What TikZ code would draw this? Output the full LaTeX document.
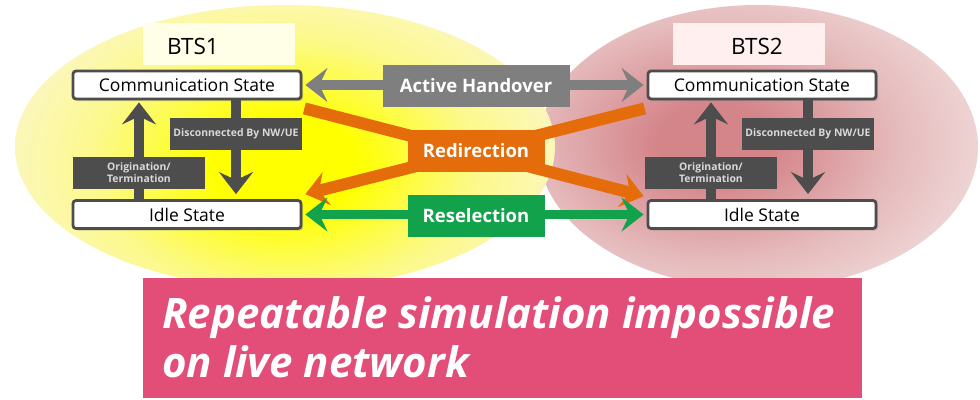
\documentclass[tikz,border=0pt]{standalone}
\usepackage{fontspec}
\setmainfont{Open Sans}
\usetikzlibrary{arrows.meta,calc,shadows}
\definecolor{yc}{HTML}{FFFF00}
\definecolor{ym}{HTML}{FCF98C}
\definecolor{ye}{HTML}{FBF6D2}
\definecolor{yx}{HTML}{FCF9E8}
\definecolor{pc}{HTML}{D4858A}
\definecolor{pm}{HTML}{E6BCBD}
\definecolor{pe}{HTML}{F2DFDF}
\definecolor{px}{HTML}{F7EDED}
\definecolor{grayA}{HTML}{7F7F7F}
\definecolor{darkB}{HTML}{4D4D4D}
\definecolor{orangeR}{HTML}{E46C0A}
\definecolor{greenR}{HTML}{12A24B}
\definecolor{pinkBox}{HTML}{E34E79}
\pgfdeclareradialshading{ylw}{\pgfpoint{0bp}{0bp}}{color(0bp)=(yc); color(6bp)=(yc); color(16bp)=(ym); color(26bp)=(ye); color(36bp)=(yx); color(50bp)=(yx)}
\pgfdeclareradialshading{pnk}{\pgfpoint{0bp}{0bp}}{color(0bp)=(pc); color(5bp)=(pc); color(16bp)=(pm); color(26bp)=(pe); color(36bp)=(px); color(50bp)=(px)}
\tikzset{
  state/.style={draw=darkB, line width=2.8pt, fill=white, rounded corners=3pt,
    minimum width=228pt, minimum height=28pt, inner sep=0pt, font=\fontsize{17.5}{19}\selectfont,
    drop shadow={shadow xshift=2pt, shadow yshift=-2pt, opacity=0.35}},
  lbl/.style={fill=#1, text=white, inner sep=0pt, font=\bfseries\fontsize{18.5}{20}\selectfont},
  small/.style={fill=darkB, text=white!85!black, inner sep=0pt, align=center,
    font=\bfseries\fontsize{10.4}{12}\selectfont},
  btsbox/.style={inner sep=0pt, minimum width=152pt, minimum height=42pt},
  btstext/.style={inner sep=0pt, font=\fontsize{22.5}{24}\selectfont},
  hd/.tip={Stealth[length=22pt, width=34pt, inset=8pt]},
  fat/.style={line width=#1},
}
\begin{document}
\begin{tikzpicture}[x=1pt,y=-1pt]
\useasboundingbox (0,0) rectangle (980,399);
\fill[white] (0,0) rectangle (980,399);
% glows
\begin{scope}
\clip (758,147) ellipse [x radius=220pt, y radius=142pt];
\shade[shading=pnk] (715,142) ellipse [x radius=290pt, y radius=190pt];
\end{scope}
\begin{scope}
\clip (285,147) ellipse [x radius=270pt, y radius=142pt];
\shade[shading=ylw] (285,165) ellipse [x radius=300pt, y radius=200pt];
\end{scope}
% BTS labels
\node[btsbox, fill=white!60!yellow!25!white] (b1) at (219,44) {};
\node[btstext] (b1t) at (193,46) {BTS1};
\node[btsbox, fill=pink!25!white] (b2) at (749,44) {};
\node[btstext] (b2t) at (757,46) {BTS2};
% state boxes
\node[state] (lc) at (187,85) {Communication State};
\node[state] (li) at (187,214.5) {Idle State};
\node[state] (rc) at (762,85) {Communication State};
\node[state] (ri) at (762,214.5) {Idle State};
% label positions
\coordinate (lo) at (139,173);
\coordinate (ld) at (236,134);
\coordinate (ro) at (711,173);
\coordinate (rd) at (808,134);
% vertical arrows
\draw[fat=10pt, darkB, -{hd}] (lo |- li.north) -- ($(lo |- lc.south)+(0,2)$);
\draw[fat=10pt, darkB, -{hd}] (ld |- lc.south) -- ($(ld |- li.north)+(0,-5)$);
\draw[fat=10pt, darkB, -{hd}] (ro |- ri.north) -- ($(ro |- rc.south)+(0,2)$);
\draw[fat=10pt, darkB, -{hd}] (rd |- rc.south) -- ($(rd |- ri.north)+(0,-5)$);
\node[small, minimum width=132pt, minimum height=32pt] (lon) at (lo) {Origination/\\Termination};
\node[small, minimum width=132pt, minimum height=32pt] (ldn) at (ld) {Disconnected By NW/UE};
\node[small, minimum width=132pt, minimum height=32pt] (ron) at (ro) {Origination/\\Termination};
\node[small, minimum width=132pt, minimum height=32pt] (rdn) at (rd) {Disconnected By NW/UE};
% horizontal arrows
\draw[fat=10pt, grayA, {hd}-{hd}] ($(lc.east)+(3,0)$) -- ($(rc.west)+(-3,0)$);
\draw[fat=12pt, orangeR, -{hd}] ($(lc.south east)+(2,8)$) -- ($(ri.north west)+(-3,-3)$);
\draw[fat=12pt, orangeR, -{hd}] ($(rc.south west)+(-2,8)$) -- ($(li.north east)+(3,-5)$);
\draw[fat=9pt, greenR, {hd}-{hd}] ($(li.east)+(3,0)$) -- ($(ri.west)+(-3,0)$);
\node[lbl=grayA, minimum width=187pt, minimum height=42pt] (ah) at (476,86) {Active Handover};
\node[lbl=orangeR, minimum width=137pt, minimum height=42pt] (rdir) at (476,151) {Redirection};
\node[lbl=greenR, minimum width=137pt, minimum height=42pt] (rs) at (476,216) {Reselection};
% bottom box
\node[fill=pinkBox, minimum width=719pt, minimum height=120pt, inner sep=0pt] (bx) at (502.5,338) {};
\node[text=white, anchor=base west, align=left, inner sep=0pt,
  font=\bfseries\itshape\fontsize{42}{49}\selectfont] (bt) at (162,377) {Repeatable simulation impossible\\on live network};
\end{tikzpicture}
\end{document}
